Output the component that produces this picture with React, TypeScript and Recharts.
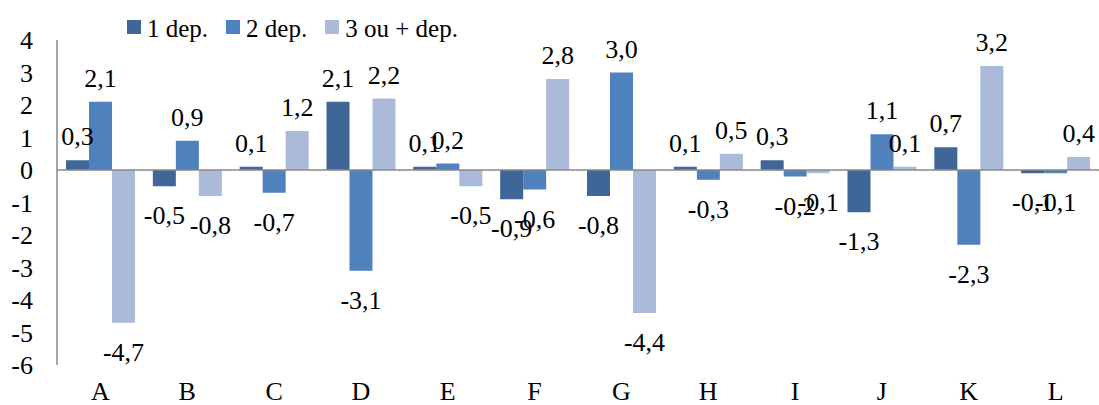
import React from 'react';
import { BarChart, Bar, XAxis, YAxis, ReferenceLine, Legend, LabelList } from 'recharts';

const categories = ['A', 'B', 'C', 'D', 'E', 'F', 'G', 'H', 'I', 'J', 'K', 'L'];
const dep1 = [0.3, -0.5, 0.1, 2.1, 0.1, -0.9, -0.8, 0.1, 0.3, -1.3, 0.7, -0.1];
const dep2 = [2.1, 0.9, -0.7, -3.1, 0.2, -0.6, 3.0, -0.3, -0.2, 1.1, -2.3, -0.1];
const dep3 = [-4.7, -0.8, 1.2, 2.2, -0.5, 2.8, -4.4, 0.5, -0.1, 0.1, 3.2, 0.4];
const yTicks = [-6, -5, -4, -3, -2, -1, 0, 1, 2, 3, 4];

const data = categories.map((c, i) => ({ cat: c, d1: dep1[i], d2: dep2[i], d3: dep3[i] }));

const FONT = 'Liberation Serif';

const fmt = (v: number) => v.toFixed(1).replace('.', ',');

const renderLabel = (props: any) => {
  const { x, y, width, height, value } = props;
  const top = Math.min(y, y + height);
  const bottom = Math.max(y, y + height);
  const cx = x + width / 2;
  const ty = value >= 0 ? top - 15 : bottom + 38;
  return (
    <text x={cx} y={ty} textAnchor="middle" fontSize={26} style={{ fontFamily: FONT }} fill="#000">
      {fmt(value)}
    </text>
  );
};

const LegendContent = (props: any) => {
  const { payload } = props;
  return (
    <div style={{ display: 'flex', fontFamily: FONT, fontSize: 25, color: '#000', paddingLeft: 127, lineHeight: '25px' }}>
      {payload.map((p: any) => (
        <div key={p.value} style={{ display: 'flex', alignItems: 'center', marginRight: 18 }}>
          <span style={{ width: 14, height: 14, background: p.color, display: 'inline-block', marginRight: 6, position: 'relative', top: -2 }} />
          <span>{p.value}</span>
        </div>
      ))}
    </div>
  );
};

export default function App() {
  return (
    <div style={{ position: 'absolute', left: 0, top: 0, width: 1099, height: 405, background: '#fff', fontFamily: FONT }}>
      <BarChart
        width={1099}
        height={405}
        data={data}
        margin={{ top: 40, right: 0, bottom: 0, left: 0 }}
        barCategoryGap={9}
        barGap={0}
        style={{ fontFamily: FONT }}
      >
        <Legend
          content={<LegendContent />}
          layout="vertical"
          verticalAlign="middle"
          align="center"
          wrapperStyle={{ position: 'absolute', top: 16, left: 0, width: 1099 }}
        />
        <XAxis
          dataKey="cat"
          axisLine={false}
          tickLine={false}
          height={40}
          tickSize={0}
          tickMargin={17}
          tick={{ fontSize: 26, fontFamily: FONT, fill: '#000' }}
        />
        <YAxis
          domain={[-6, 4]}
          ticks={yTicks}
          width={57}
          tickLine={false}
          tickSize={0}
          tickMargin={24}
          axisLine={{ stroke: '#898989', strokeWidth: 1.5 }}
          tick={{ fontSize: 26, fontFamily: FONT, fill: '#000' }}
          interval={0}
        />
        <Bar dataKey="d1" name="1 dep." fill="#3e6797" isAnimationActive={false}>
          <LabelList dataKey="d1" content={renderLabel} />
        </Bar>
        <Bar dataKey="d2" name="2 dep." fill="#4f81bd" isAnimationActive={false}>
          <LabelList dataKey="d2" content={renderLabel} />
        </Bar>
        <Bar dataKey="d3" name="3 ou + dep." fill="#aabad8" isAnimationActive={false}>
          <LabelList dataKey="d3" content={renderLabel} />
        </Bar>
        <ReferenceLine y={0} stroke="#898989" strokeWidth={1.5} />
      </BarChart>
    </div>
  );
}
